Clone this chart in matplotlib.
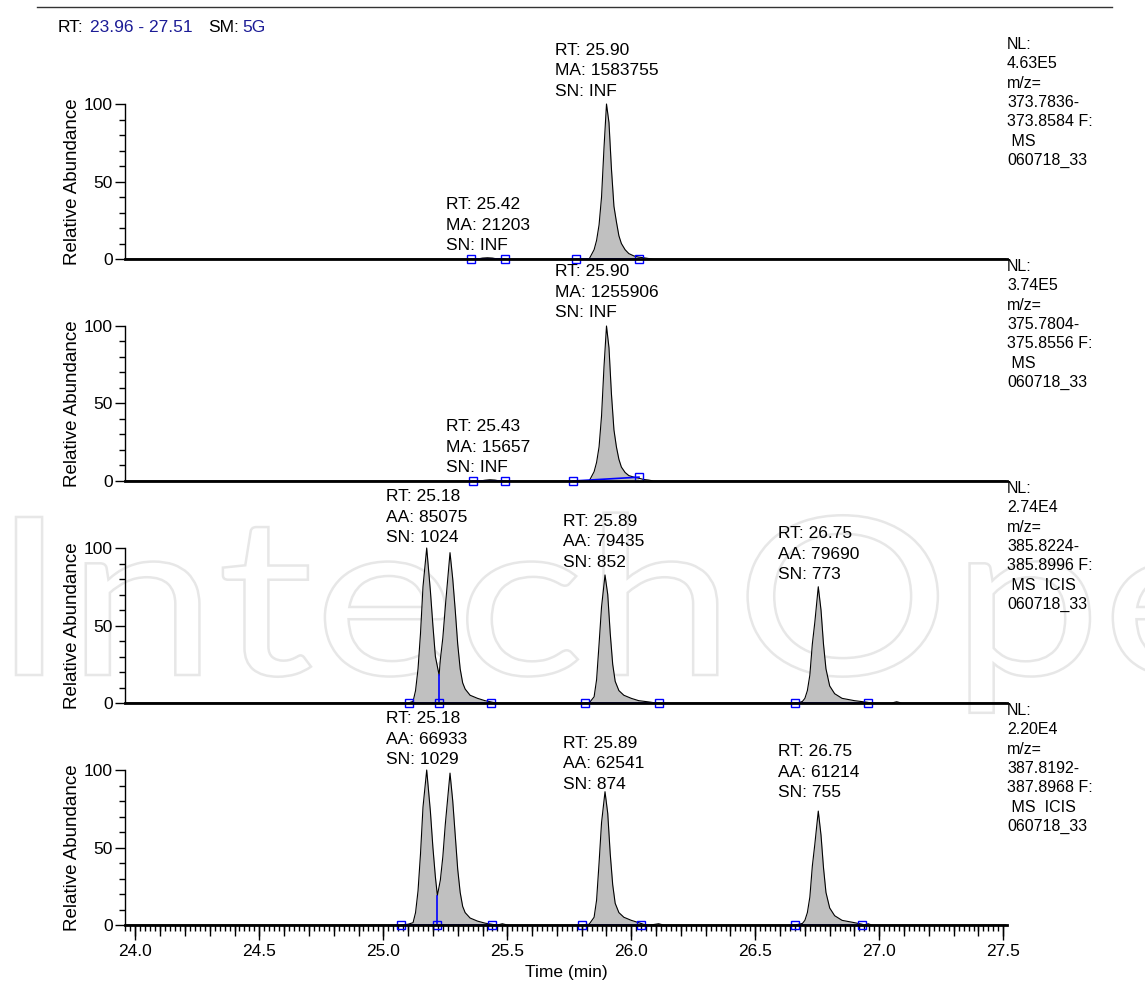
import numpy as np
import matplotlib
matplotlib.use('Agg')
import matplotlib.pyplot as plt
from matplotlib.ticker import MultipleLocator, FormatStrFormatter, FixedLocator
from matplotlib.textpath import TextPath
from matplotlib.patches import PathPatch
from matplotlib.font_manager import FontProperties
from matplotlib.transforms import Affine2D

plt.rcParams['font.family'] = ['Liberation Sans', 'DejaVu Sans']

# ---- data (time in min, relative abundance %) ----
p1_t = [23.96, 25.38, 25.40, 25.42, 25.44, 25.46, 25.83, 25.85, 25.86, 25.87, 25.88, 25.89, 25.90, 25.91,
        25.92, 25.93, 25.94, 25.95, 25.96, 25.975, 25.99, 26.01, 26.03, 26.05, 26.07, 26.09, 27.51]
p1_y = [0, 0, 0.6, 0.8, 0.6, 0, 0, 6, 12, 22, 40, 72, 100, 88,
        58, 34, 24, 15, 10, 6, 3.5, 2, 1.2, 0.8, 0.3, 0, 0]

p2_t = [23.96, 25.39, 25.41, 25.43, 25.45, 25.47, 25.83, 25.85, 25.86, 25.87, 25.88, 25.89, 25.90, 25.91,
        25.92, 25.93, 25.94, 25.95, 25.96, 25.975, 25.99, 26.01, 26.03, 26.05, 26.07, 26.09, 27.51]
p2_y = [0, 0, 0.5, 0.8, 0.6, 0, 0, 6, 12, 22, 42, 74, 100, 86,
        56, 33, 22, 14, 9, 5.5, 3.5, 2.5, 1.8, 1, 0.6, 0, 0]

p3_t = [23.96, 25.10, 25.12, 25.13, 25.14, 25.15, 25.16, 25.175, 25.19, 25.20, 25.21, 25.225, 25.23, 25.24,
        25.25, 25.269, 25.28, 25.29, 25.30, 25.31, 25.32, 25.33, 25.35, 25.38, 25.41, 25.44, 25.46,
        25.83, 25.85, 25.86, 25.87, 25.88, 25.894, 25.905, 25.915, 25.925, 25.935, 25.95, 25.97, 26.00,
        26.03, 26.07, 26.10,
        26.67, 26.69, 26.70, 26.71, 26.72, 26.73, 26.74, 26.754, 26.765, 26.775, 26.785, 26.80, 26.82,
        26.85, 26.90, 26.95, 26.97, 27.05, 27.07, 27.09, 27.51]
p3_y = [0, 0, 1, 8, 22, 45, 75, 100, 72, 50, 30, 18, 28, 42,
        62, 97, 80, 60, 38, 22, 13, 9, 5, 3, 1.5, 0.5, 0,
        0, 4, 15, 38, 62, 82.6, 70, 45, 25, 14, 8, 5, 3,
        1.5, 0.7, 0,
        0, 1, 3, 8, 18, 38, 52, 75, 60, 38, 22, 11, 6,
        3, 1.5, 0.5, 0, 0, 0.8, 0, 0]

p4_t = [23.96, 25.07, 25.10, 25.12, 25.13, 25.14, 25.15, 25.16, 25.175, 25.19, 25.20, 25.21, 25.218, 25.23,
        25.24, 25.25, 25.269, 25.28, 25.29, 25.30, 25.31, 25.32, 25.33, 25.35, 25.38, 25.41, 25.44,
        25.46, 25.48, 25.50,
        25.80, 25.83, 25.85, 25.86, 25.87, 25.88, 25.894, 25.905, 25.915, 25.925, 25.935, 25.95, 25.97,
        26.00, 26.03, 26.05, 26.07, 26.09, 26.11, 26.13,
        26.66, 26.69, 26.70, 26.71, 26.72, 26.73, 26.74, 26.754, 26.765, 26.775, 26.785, 26.80, 26.82,
        26.85, 26.90, 26.93, 26.94, 26.955, 26.97, 27.51]
p4_y = [0, 0, 0.5, 1.5, 8, 22, 46, 76, 100, 73, 50, 31, 19, 29,
        44, 65, 98, 80, 58, 36, 21, 12, 8, 4.5, 2.5, 1.2, 0.4,
        0, 0.8, 0,
        0, 0.5, 5, 16, 40, 66, 86, 72, 46, 26, 14, 8, 5,
        3, 1.5, 0.4, 0, 0.3, 0.8, 0,
        0, 1, 3, 8, 18, 38, 52, 73.5, 58, 37, 21, 11, 6,
        3, 1.5, 0.5, 0, 0.8, 0, 0]

# integration markers (time, level) and which marker pairs bound a peak
p1_mark_t = [25.354, 25.491, 25.776, 26.032]
p1_mark_y = [0, 0, 0, 0]
p2_mark_t = [25.363, 25.492, 25.765, 26.031]
p2_mark_y = [0, 0, 0, 2.5]
p3_mark_t = [25.105, 25.225, 25.435, 25.815, 26.113, 26.659, 26.954]
p3_mark_y = [0, 0, 0, 0, 0, 0, 0]
p4_mark_t = [25.07, 25.218, 25.44, 25.80, 26.04, 26.66, 26.93]
p4_mark_y = [0, 0, 0, 0, 0, 0, 0]
p12_pairs = [(0, 1), (2, 3)]
p34_pairs = [(0, 2), (3, 4), (5, 6)]
p3_split = (25.225, 18)
p4_split = (25.218, 19)

# peak labels
p1_labels = ["RT: 25.90\nMA: 1583755\nSN: INF", "RT: 25.42\nMA: 21203\nSN: INF"]
p2_labels = ["RT: 25.90\nMA: 1255906\nSN: INF", "RT: 25.43\nMA: 15657\nSN: INF"]
p3_labels = ["RT: 25.18\nAA: 85075\nSN: 1024", "RT: 25.89\nAA: 79435\nSN: 852", "RT: 26.75\nAA: 79690\nSN: 773"]
p4_labels = ["RT: 25.18\nAA: 66933\nSN: 1029", "RT: 25.89\nAA: 62541\nSN: 874", "RT: 26.75\nAA: 61214\nSN: 755"]

# scan header per trace
p1_info = "NL:\n4.63E5\nm/z=\n373.7836-\n373.8584 F:\n MS\n060718_33"
p2_info = "NL:\n3.74E5\nm/z=\n375.7804-\n375.8556 F:\n MS\n060718_33"
p3_info = "NL:\n2.74E4\nm/z=\n385.8224-\n385.8996 F:\n MS  ICIS\n060718_33"
p4_info = "NL:\n2.20E4\nm/z=\n387.8192-\n387.8968 F:\n MS  ICIS\n060718_33"

# ---- layout (pixels) ----
W, H = 1145, 982
zero_px = [259, 481, 703, 925]
label_pos = [[(25.692, 121.3), (25.253, 21.9)],
             [(25.692, 121.9), (25.253, 21.9)],
             [(25.011, 120), (25.725, 103.9), (26.592, 96.1)],
             [(25.011, 120), (25.725, 103.9), (26.592, 98.7)]]

panels = [
    (p1_t, p1_y, p1_mark_t, p1_mark_y, p12_pairs, None, p1_labels, p1_info),
    (p2_t, p2_y, p2_mark_t, p2_mark_y, p12_pairs, None, p2_labels, p2_info),
    (p3_t, p3_y, p3_mark_t, p3_mark_y, p34_pairs, p3_split, p3_labels, p3_info),
    (p4_t, p4_y, p4_mark_t, p4_mark_y, p34_pairs, p4_split, p4_labels, p4_info),
]

fig = plt.figure(figsize=(W / 100, H / 100), dpi=100, facecolor='w')

# faint watermark
fp = FontProperties(family='Lato')
wm = TextPath((0, 0), 'IntechOpen', size=1, prop=fp)
ext_p = TextPath((0, 0), 'IntechOp', size=1, prop=fp).get_extents()
cap = TextPath((0, 0), 'I', size=1, prop=fp).get_extents()
sx = (1090 - 16) / ext_p.width
sy = 158 / cap.height
tr = Affine2D().translate(-ext_p.x0, 0).scale(sx, sy).translate(16, H - 675)
fig.add_artist(PathPatch(wm, transform=tr, fc='none', ec='#e7e7e7', lw=1.8, zorder=-5))

ax_left = 125.4
ax_right = 1007
ymax = 140
ppu = 1.55  # pixels per % abundance

fs = 12.5
for i, (t, y, mt, my, pairs, split, labels, info) in enumerate(panels):
    b = zero_px[i]
    hpx = ymax * ppu
    ax = fig.add_axes([ax_left / W, 1 - b / H, (ax_right - ax_left) / W, hpx / H])
    ax.patch.set_visible(False)
    t = np.array(t)
    y = np.array(y)
    ax.set_xlim(23.96, 27.515)
    ax.set_ylim(0, ymax)

    for a, c in pairs:
        m = (t >= mt[a] - 1e-9) & (t <= mt[c] + 1e-9)
        ax.fill_between(t[m], y[m], 0, color='#c0c0c0', lw=0, zorder=1)
    ax.plot(t, y, color='k', lw=0.8, zorder=2)
    for a, c in pairs:
        ax.plot([mt[a], mt[c]], [my[a], my[c]], color='#0000ff', lw=1.2, zorder=3, clip_on=False)
    if split is not None:
        ax.plot([split[0], split[0]], [0, split[1]], color='#0000ff', lw=1.2, zorder=3)
    ax.plot(mt, my, ls='none', marker='s', ms=6, mfc='none', mec='#0000ff', mew=1.0, zorder=4, clip_on=False)

    for txt, (lx, ly) in zip(labels, label_pos[i]):
        ax.text(lx, ly, txt, fontsize=fs, ha='left', va='center', linespacing=1.45)

    fig.text(1007 / W, 1 - (b - 222) / H, info, fontsize=11.5, ha='left', va='top', linespacing=1.36)

    for s in ['top', 'right']:
        ax.spines[s].set_visible(False)
    ax.spines['left'].set_bounds(0, 100)
    ax.spines['left'].set_linewidth(1.0)
    ax.spines['bottom'].set_linewidth(2.0)
    ax.spines['bottom'].set_zorder(5)

    ax.set_yticks([0, 50, 100])
    ax.yaxis.set_minor_locator(FixedLocator([10, 20, 30, 40, 60, 70, 80, 90]))
    ax.tick_params(axis='y', which='major', length=7, width=1, labelsize=fs, pad=2)
    ax.tick_params(axis='y', which='minor', length=4, width=1)
    ax.set_ylabel('Relative Abundance', fontsize=13.5)
    ax.yaxis.set_label_coords(-0.050, 50 / ymax)

    if i < 3:
        ax.tick_params(axis='x', which='both', bottom=False, labelbottom=False)
    else:
        ax.xaxis.set_major_locator(MultipleLocator(0.5))
        ax.xaxis.set_major_formatter(FormatStrFormatter('%.1f'))
        ax.xaxis.set_minor_locator(MultipleLocator(0.02))
        ax.tick_params(axis='x', which='major', length=11, width=1, labelsize=fs, pad=3)
        ax.tick_params(axis='x', which='minor', length=4, width=1)
        ax.set_xlabel('Time (min)', fontsize=fs, labelpad=4)
        ax2 = ax.twiny()
        ax2.set_xlim(ax.get_xlim())
        ax2.xaxis.set_ticks_position('bottom')
        ax2.set_xticks(np.round(np.arange(24.0, 27.51, 0.1), 1))
        ax2.tick_params(axis='x', length=8, width=1, labelbottom=False, labeltop=False)
        for s in ax2.spines.values():
            s.set_visible(False)

# header
fig.add_artist(plt.Line2D([37 / W, 1112 / W], [1 - 7 / H, 1 - 7 / H], color='#333333', lw=1.0))
hy = 1 - 27 / H
fig.text(58 / W, hy, 'RT:', fontsize=fs, va='center')
fig.text(90 / W, hy, '23.96 - 27.51', fontsize=fs, va='center', color='#1c1c96')
fig.text(208 / W, hy, 'SM:', fontsize=fs, va='center')
fig.text(242 / W, hy, '5G', fontsize=fs, va='center', color='#1c1c96')

fig.savefig('out.png', dpi=100)
